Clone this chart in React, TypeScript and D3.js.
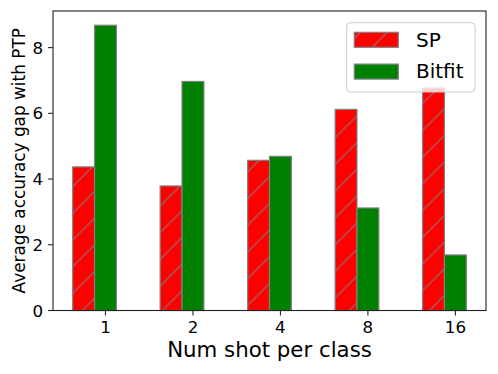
import React from "react";
import * as d3 from "d3";

const categories = ["1", "2", "4", "8", "16"];
const spValues = [4.37, 3.79, 4.57, 6.12, 6.77];
const bitfitValues = [8.68, 6.97, 4.69, 3.12, 1.69];
const yTicks = [0, 2, 4, 6, 8];
const seriesNames = ["SP", "Bitfit"];

const W = 498;
const H = 374;
const margin = { left: 53, right: 12, top: 11, bottom: 63.5 };
const barW = 0.25;
const font = "DejaVu Sans, sans-serif";

const App = () => {
  const plotR = W - margin.right;
  const plotB = H - margin.bottom;

  // bars sit at i - 0.25 (SP) and i (Bitfit), matplotlib 5% margins
  const lo = -0.25 - barW / 2;
  const hi = categories.length - 1 + barW / 2;
  const pad = (hi - lo) * 0.05;
  const x = d3.scaleLinear().domain([lo - pad, hi + pad]).range([margin.left, plotR]);

  const yMax = (d3.max([...spValues, ...bitfitValues]) as number) * 1.05;
  const y = d3.scaleLinear().domain([0, yMax]).range([plotB, margin.top]);

  const series = [
    { name: seriesNames[0], values: spValues, off: -0.25, fill: "url(#hatch)" },
    { name: seriesNames[1], values: bitfitValues, off: 0, fill: "#008000" },
  ];

  return (
    <svg width={W} height={H} style={{ position: "absolute", left: 0, top: 0 }} fontFamily={font}>
      <defs>
        <pattern id="hatch" patternUnits="userSpaceOnUse" x={19} y={0} width={26.7} height={26.7}>
          <rect width={26.7} height={26.7} fill="#ff0000" />
          <path
            d="M0,26.7L26.7,0M-6,6L6,-6M20.7,32.7L32.7,20.7"
            stroke="#808080"
            strokeWidth={1}
          />
        </pattern>
      </defs>

      {series.map((s) =>
        s.values.map((v, i) => (
          <rect
            key={s.name + i}
            x={x(i + s.off - barW / 2)}
            y={y(v)}
            width={x(barW) - x(0)}
            height={y(0) - y(v)}
            fill={s.fill}
            stroke="#808080"
            strokeWidth={1.2}
          />
        ))
      )}

      {/* axes frame */}
      <rect
        x={margin.left}
        y={margin.top}
        width={plotR - margin.left}
        height={plotB - margin.top}
        fill="none"
        stroke="#222"
        strokeWidth={1.1}
      />

      {yTicks.map((t) => (
        <g key={t} transform={`translate(0,${y(t)})`}>
          <line x1={margin.left - 4.9} x2={margin.left} stroke="#222" strokeWidth={1.1} />
          <text x={margin.left - 9.8} dy="0.36em" textAnchor="end" fontSize={16.7}>
            {t}
          </text>
        </g>
      ))}

      {categories.map((c, i) => (
        <g key={c} transform={`translate(${x(i)},0)`}>
          <line y1={plotB} y2={plotB + 4.9} stroke="#222" strokeWidth={1.1} />
          <text y={332.7} textAnchor="middle" fontSize={16.7}>
            {c}
          </text>
        </g>
      ))}

      <text x={(margin.left + plotR) / 2} y={356.7} textAnchor="middle" fontSize={21.3}>
        Num shot per class
      </text>
      <text
        transform={`translate(25,${(margin.top + plotB) / 2}) rotate(-90)`}
        textAnchor="middle"
        fontSize={16.9}
      >
        Average accuracy gap with PTP
      </text>

      {/* legend */}
      <g>
        <rect
          x={346.7}
          y={22.7}
          width={128.3}
          height={69.3}
          rx={4}
          fill="#fff"
          fillOpacity={0.8}
          stroke="#ccc"
          strokeWidth={1}
        />
        {series.map((s, i) => (
          <g key={s.name} transform={`translate(0,${i * 31.8})`}>
            <rect
              x={354.3}
              y={32.3}
              width={44}
              height={15}
              fill={s.fill}
              stroke="#808080"
              strokeWidth={1.2}
            />
            <text x={416} y={46.7} fontSize={20}>
              {s.name}
            </text>
          </g>
        ))}
      </g>
    </svg>
  );
};

export default App;
